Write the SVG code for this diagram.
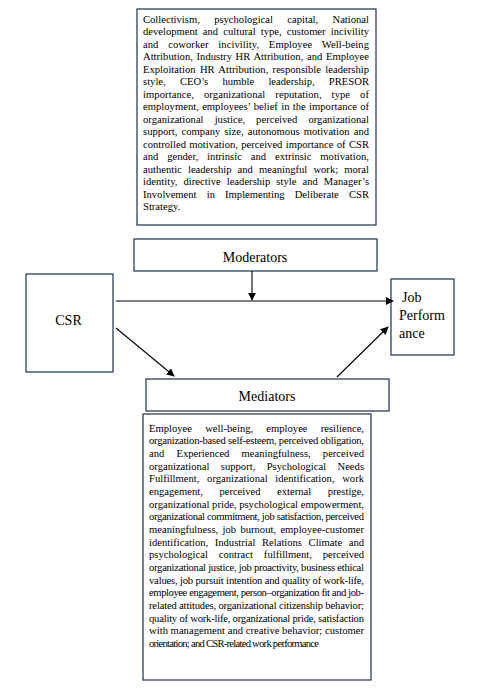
<svg xmlns="http://www.w3.org/2000/svg" width="481" height="689" viewBox="0 0 481 689">
<style>
.box{fill:#fff;stroke:#1f2f4f;stroke-width:1.2}
.lbl{font-family:"Liberation Serif","Times New Roman",serif;font-size:14px;fill:#000}
.body{font-family:"Liberation Serif","Times New Roman",serif;font-size:10.6px;fill:#000}
.conn{stroke:#000;stroke-width:1.1;fill:none}
</style>
<defs>
<marker id="ah" viewBox="0 0 10 10" refX="9" refY="5" markerWidth="8" markerHeight="8" markerUnits="userSpaceOnUse" orient="auto">
<path d="M0,0 L10,5 L0,10 z" fill="#000"/>
</marker>
</defs>
<rect width="481" height="689" fill="#fff"/>
<g id="moderator-list">
<rect class="box" x="137" y="9" width="239" height="216"/>
<text class="body">
<tspan x="143" y="22.5" word-spacing="11.7" textLength="226" lengthAdjust="spacing">Collectivism, psychological capital, National</tspan>
<tspan x="143" y="35" word-spacing="2.5" textLength="226" lengthAdjust="spacing">development and cultural type, customer incivility</tspan>
<tspan x="143" y="47.5" word-spacing="7.1" textLength="226" lengthAdjust="spacing">and coworker incivility, Employee Well-being</tspan>
<tspan x="143" y="60" word-spacing="1" textLength="226" lengthAdjust="spacing">Attribution, Industry HR Attribution, and Employee</tspan>
<tspan x="143" y="72.5" word-spacing="1.6" textLength="226" lengthAdjust="spacing">Exploitation HR Attribution, responsible leadership</tspan>
<tspan x="143" y="85" word-spacing="11.5" textLength="226" lengthAdjust="spacing">style, CEO’s humble leadership, PRESOR</tspan>
<tspan x="143" y="97.5" word-spacing="7.3" textLength="226" lengthAdjust="spacing">importance, organizational reputation, type of</tspan>
<tspan x="143" y="110" word-spacing="0.6" textLength="226" lengthAdjust="spacing">employment, employees’ belief in the importance of</tspan>
<tspan x="143" y="122.5" word-spacing="8.4" textLength="226" lengthAdjust="spacing">organizational justice, perceived organizational</tspan>
<tspan x="143" y="135" word-spacing="1.4" textLength="226" lengthAdjust="spacing">support, company size, autonomous motivation and</tspan>
<tspan x="143" y="147.5" word-spacing="0.7" textLength="226" lengthAdjust="spacing">controlled motivation, perceived importance of CSR</tspan>
<tspan x="143" y="160" word-spacing="6.2" textLength="226" lengthAdjust="spacing">and gender, intrinsic and extrinsic motivation,</tspan>
<tspan x="143" y="172.5" word-spacing="3.5" textLength="226" lengthAdjust="spacing">authentic leadership and meaningful work; moral</tspan>
<tspan x="143" y="185" word-spacing="3.3" textLength="226" lengthAdjust="spacing">identity, directive leadership style and Manager’s</tspan>
<tspan x="143" y="197.5" word-spacing="7.5" textLength="226" lengthAdjust="spacing">Involvement in Implementing Deliberate CSR</tspan>
<tspan x="143" y="210">Strategy.</tspan>
</text>
</g>
<g id="moderators">
<rect class="box" x="134" y="239" width="243" height="32"/>
<text class="lbl" x="255" y="262" text-anchor="middle">Moderators</text>
</g>
<g id="csr">
<rect class="box" x="26" y="274" width="87" height="98"/>
<text class="lbl" x="68.5" y="325" text-anchor="middle">CSR</text>
</g>
<g id="job-performance">
<rect class="box" x="391" y="279" width="63" height="76"/>
<text class="lbl"><tspan x="402" y="302">Job</tspan><tspan x="399" y="320">Perform</tspan><tspan x="399" y="338">ance</tspan></text>
</g>
<g id="mediators">
<rect class="box" x="146" y="379" width="243" height="32"/>
<text class="lbl" x="267" y="401" text-anchor="middle">Mediators</text>
</g>
<g id="mediator-list">
<rect class="box" x="143" y="414" width="228" height="266"/>
<text class="body">
<tspan x="149" y="431.5" word-spacing="10.5" textLength="215" lengthAdjust="spacing">Employee well-being, employee resilience,</tspan>
<tspan x="149" y="444.2" textLength="215" lengthAdjust="spacing">organization-based self-esteem, perceived obligation,</tspan>
<tspan x="149" y="456.8" word-spacing="9.5" textLength="215" lengthAdjust="spacing">and Experienced meaningfulness, perceived</tspan>
<tspan x="149" y="469.5" word-spacing="8.7" textLength="215" lengthAdjust="spacing">organizational support, Psychological Needs</tspan>
<tspan x="149" y="482.2" word-spacing="5" textLength="215" lengthAdjust="spacing">Fulfillment, organizational identification, work</tspan>
<tspan x="149" y="494.8" word-spacing="13.9" textLength="215" lengthAdjust="spacing">engagement, perceived external prestige,</tspan>
<tspan x="149" y="507.5" textLength="215" lengthAdjust="spacing">organizational pride, psychological empowerment,</tspan>
<tspan x="149" y="520.2" textLength="215" lengthAdjust="spacing">organizational commitment, job satisfaction, perceived</tspan>
<tspan x="149" y="532.8" word-spacing="1.7" textLength="215" lengthAdjust="spacing">meaningfulness, job burnout, employee-customer</tspan>
<tspan x="149" y="545.5" word-spacing="3.9" textLength="215" lengthAdjust="spacing">identification, Industrial Relations Climate and</tspan>
<tspan x="149" y="558.2" word-spacing="8.3" textLength="215" lengthAdjust="spacing">psychological contract fulfillment, perceived</tspan>
<tspan x="149" y="570.8" textLength="215" lengthAdjust="spacing">organizational justice, job proactivity, business ethical</tspan>
<tspan x="149" y="583.5" textLength="215" lengthAdjust="spacing">values, job pursuit intention and quality of work-life,</tspan>
<tspan x="149" y="596.2" textLength="215" lengthAdjust="spacing">employee engagement, person–organization fit and job-</tspan>
<tspan x="149" y="608.8" textLength="215" lengthAdjust="spacing">related attitudes, organizational citizenship behavior;</tspan>
<tspan x="149" y="621.5" textLength="215" lengthAdjust="spacing">quality of work-life, organizational pride, satisfaction</tspan>
<tspan x="149" y="634.2" textLength="215" lengthAdjust="spacing">with management and creative behavior; customer</tspan>
<tspan x="149" y="646.8" textLength="170" lengthAdjust="spacing">orientation; and CSR-related work performance</tspan>
</text>
</g>
<g id="connectors">
<line class="conn" x1="116" y1="301" x2="393" y2="301" marker-end="url(#ah)"/>
<line class="conn" x1="252" y1="271" x2="252" y2="300" marker-end="url(#ah)"/>
<line class="conn" x1="116" y1="328" x2="174" y2="376" marker-end="url(#ah)"/>
<line class="conn" x1="337" y1="377" x2="388" y2="327" marker-end="url(#ah)"/>
</g>
</svg>
